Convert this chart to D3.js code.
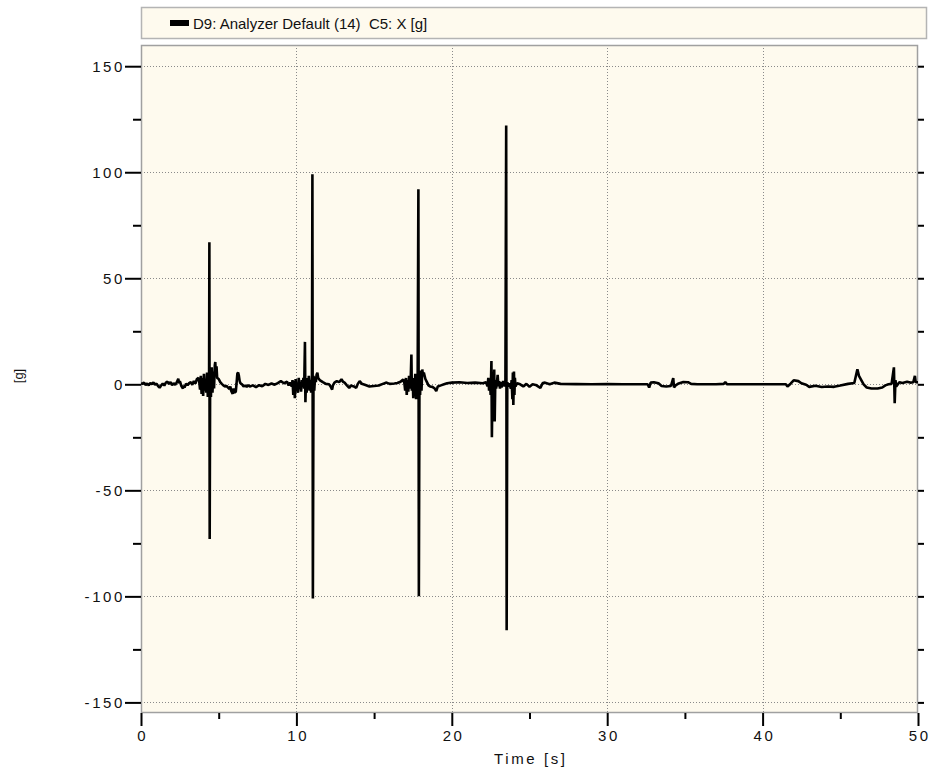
<!DOCTYPE html>
<html>
<head>
<meta charset="utf-8">
<script src="https://cdn.jsdelivr.net/npm/d3@7"></script>
<style>
  body { margin: 0; background: #fff; }
  svg { display: block; font-family: "Liberation Sans", Arial, sans-serif; }
  .tick-label { font-size: 15px; letter-spacing: 2.6px; fill: #111; }
</style>
</head>
<body>
<div id="chart"></div>
<script>
const legendLabel = "D9: Analyzer Default (14)  C5: X [g]";
const xTitle = "Time [s]";
const yTitle = "[g]";

const xMajorTicks = [0, 10, 20, 30, 40, 50];
const xMinorTicks = [5, 15, 25, 35, 45];
const yMajorTicks = [150, 100, 50, 0, -50, -100, -150];
const yMinorTicks = [125, 75, 25, -25, -75, -125];

// [time s, accel g]
const samples = [
  [0.0, 0.5], [0.1, 0.2], [0.2, 0.8], [0.3, -0.3], [0.4, 0.4], [0.5, -0.5], [0.6, 0.6], [0.7, 0.1],
  [0.8, 0.9], [0.9, -0.2], [1.0, 0.3], [1.1, -0.8], [1.2, -1.6], [1.3, -0.5], [1.4, 0.4], [1.5, -0.6],
  [1.6, 0.8], [1.7, 1.2], [1.8, 0.2], [1.9, 1.0], [2.0, -0.4], [2.1, 0.5], [2.2, -0.3], [2.3, 0.9],
  [2.4, 2.6], [2.45, 0.5], [2.5, 1.5], [2.6, -0.8], [2.7, -2.0], [2.75, -0.6], [2.8, -1.5], [2.9, 0.3],
  [3.0, -0.4], [3.1, 0.6], [3.2, 1.0], [3.3, -0.2], [3.4, 1.5], [3.5, 0.4], [3.6, 2.5], [3.7, 3.0],
  [3.75, 1.0], [3.8, -2.5], [3.85, 4.0], [3.9, -4.5], [3.95, 3.0], [4.0, -5.5], [4.05, 5.0], [4.1, -3.0],
  [4.15, 2.0], [4.2, -4.0], [4.25, 5.5], [4.3, -6.0], [4.35, 3.5], [4.38, -2.0], [4.4, 67.0], [4.42, -73.0],
  [4.45, 5.0], [4.5, -6.0], [4.55, 8.0], [4.6, -4.0], [4.65, 6.0], [4.7, -2.0], [4.75, 9.0], [4.78, 10.5],
  [4.82, 4.0], [4.86, 8.5], [4.9, 3.0], [5.0, 2.5], [5.1, 1.0], [5.2, 0.2], [5.3, -0.5], [5.4, -1.0],
  [5.5, -0.8], [5.6, -1.5], [5.7, -2.2], [5.75, -1.0], [5.8, -3.0], [5.9, -4.5], [5.95, -2.0], [6.0, -4.0],
  [6.1, -3.5], [6.15, 0.5], [6.2, 5.0], [6.25, 5.6], [6.3, 4.0], [6.35, 1.5], [6.4, 0.5], [6.5, 0.0],
  [6.6, -1.0], [6.7, -0.6], [6.8, -1.2], [6.9, -0.4], [7.0, -1.0], [7.2, -0.5], [7.4, -1.3], [7.6, -0.4],
  [7.8, -0.9], [8.0, 0.2], [8.2, -0.3], [8.4, 0.4], [8.6, -0.2], [8.8, 0.6], [9.0, 1.5], [9.2, 0.5],
  [9.4, 1.2], [9.5, -0.5], [9.6, 0.8], [9.7, -1.0], [9.75, 2.0], [9.8, -5.0], [9.85, 1.5], [9.9, -6.5],
  [9.95, 2.5], [10.0, -3.0], [10.05, 0.5], [10.1, -4.0], [10.15, 3.0], [10.2, -2.0], [10.25, 1.0], [10.3, -3.5],
  [10.35, 2.0], [10.4, -1.0], [10.45, 3.0], [10.5, -2.0], [10.55, 20.0], [10.58, -8.5], [10.62, 2.5], [10.66, -4.0],
  [10.7, 3.0], [10.75, -2.5], [10.8, 4.0], [10.85, -3.0], [10.9, 2.0], [10.95, -4.0], [11.0, 3.5], [11.03, 99.0],
  [11.06, -101.0], [11.1, 4.0], [11.15, -3.0], [11.2, 3.5], [11.25, 1.0], [11.3, 4.5], [11.35, 5.5], [11.4, 3.0],
  [11.5, 2.0], [11.7, 1.0], [11.9, 0.2], [12.1, 0.0], [12.2, -1.0], [12.3, -2.5], [12.35, -0.5], [12.45, 0.8],
  [12.6, 1.5], [12.75, 1.0], [12.9, 2.4], [13.0, 1.2], [13.1, 0.8], [13.25, -0.5], [13.4, -1.7], [13.5, -0.6],
  [13.7, -1.0], [13.85, -1.7], [13.95, 0.2], [14.07, 1.5], [14.2, 0.3], [14.4, -0.2], [14.7, -1.0], [15.0, -0.8],
  [15.3, -0.6], [15.6, 0.3], [15.8, 0.8], [16.0, 0.2], [16.3, 0.4], [16.5, 0.6], [16.7, 1.2], [16.87, 2.3],
  [16.95, 0.5], [17.0, -3.0], [17.05, 3.0], [17.1, -5.0], [17.15, 2.0], [17.2, -3.5], [17.25, 4.0], [17.3, -2.0],
  [17.35, 1.0], [17.4, 14.0], [17.43, -3.0], [17.48, 3.0], [17.52, -6.5], [17.56, 2.0], [17.6, -4.0], [17.65, 5.0],
  [17.7, -7.0], [17.75, 3.0], [17.8, -3.0], [17.85, 92.0], [17.88, -100.0], [17.92, 4.0], [17.96, -5.0], [18.0, 6.5],
  [18.05, -3.0], [18.1, 7.0], [18.15, 4.0], [18.2, 5.5], [18.3, 2.5], [18.4, 1.0], [18.5, -0.5], [18.6, -1.0],
  [18.75, -1.2], [18.9, -2.0], [19.0, -3.2], [19.1, -1.0], [19.3, -0.5], [19.5, 0.0], [19.7, 0.5], [20.0, 0.8],
  [20.5, 1.0], [21.0, 0.6], [21.5, 0.8], [22.0, 0.5], [22.2, 1.0], [22.3, -1.0], [22.35, 3.0], [22.4, -3.0],
  [22.45, 2.0], [22.5, -5.0], [22.55, 11.0], [22.58, -25.0], [22.62, 2.0], [22.66, -4.0], [22.7, 1.5], [22.73, 7.0],
  [22.76, -17.5], [22.8, 2.0], [22.85, -2.0], [22.9, 0.5], [22.95, 4.5], [23.0, -1.0], [23.05, 1.5], [23.1, -2.0],
  [23.15, 1.0], [23.2, -1.5], [23.3, 1.5], [23.4, -1.0], [23.45, 2.0], [23.5, 122.0], [23.53, -116.0], [23.57, 1.0],
  [23.62, -1.0], [23.7, 0.5], [23.8, -2.0], [23.85, 2.0], [23.9, -7.0], [23.93, 5.5], [23.96, -9.7], [24.0, 6.0],
  [24.03, -5.0], [24.06, 3.0], [24.1, -1.0], [24.2, 0.5], [24.4, 0.0], [24.6, -1.0], [24.8, 0.2], [25.0, -1.2],
  [25.2, 0.0], [25.4, -0.3], [25.7, -1.7], [25.85, 0.6], [26.0, 0.8], [26.3, 0.0], [26.6, 0.8], [27.0, 0.2],
  [28.0, 0.1], [29.0, 0.0], [30.0, 0.1], [31.0, 0.0], [32.0, 0.0], [32.6, 0.0], [32.7, -1.5], [32.8, 0.8],
  [33.0, 1.0], [33.3, 0.5], [33.5, -0.8], [33.8, -1.0], [34.1, -0.8], [34.25, 2.9], [34.3, -1.5], [34.4, -0.5],
  [34.6, 0.4], [34.9, 1.1], [35.2, 1.0], [35.4, 0.2], [35.8, 0.0], [36.5, 0.0], [37.0, 0.0], [37.5, 0.2],
  [37.6, 1.0], [37.7, 0.1], [38.5, 0.0], [39.5, 0.0], [40.5, 0.0], [41.5, 0.0], [41.6, -1.0], [41.8, 0.3],
  [42.0, 1.9], [42.3, 1.5], [42.5, 0.5], [42.8, -0.2], [43.0, -1.2], [43.4, -0.7], [43.8, -1.3], [44.2, -1.0],
  [44.6, -1.2], [45.0, -0.6], [45.5, 0.2], [45.9, 0.6], [46.1, 7.1], [46.2, 4.0], [46.35, 2.0], [46.5, 0.0],
  [46.7, -1.5], [47.0, -2.0], [47.4, -2.0], [47.7, -1.5], [47.9, -0.5], [48.1, 0.0], [48.3, 0.2], [48.45, 8.0],
  [48.5, -8.9], [48.55, 2.0], [48.6, -1.0], [48.8, 1.0], [49.0, 0.6], [49.3, 1.2], [49.5, 0.8], [49.7, 1.0],
  [49.8, 4.0], [49.85, 1.0], [50.0, 1.0]
];

const W = 932, H = 772;
const plot = { left: 141, right: 918, top: 45, bottom: 713 };
const bg = "#fefaee";

const svg = d3.select("#chart")
  .append("svg")
  .attr("width", W)
  .attr("height", H);

const x = d3.scaleLinear().domain([0, 50]).range([plot.left, plot.right]);
const y = d3.scaleLinear().domain([-155, 160]).range([plot.bottom, plot.top]);

// legend box
const legend = svg.append("g");
legend.append("rect")
  .attr("x", plot.left + 0.5).attr("y", 7.5)
  .attr("width", plot.right - plot.left + 8).attr("height", 31)
  .attr("fill", bg).attr("stroke", "#b4b4b4").attr("stroke-width", 1.5);
legend.append("rect")
  .attr("x", 170).attr("y", 20).attr("width", 19).attr("height", 6)
  .attr("fill", "#000");
legend.append("text")
  .attr("x", 193).attr("y", 29)
  .style("font-size", "15px")
  .style("white-space", "pre")
  .attr("fill", "#111")
  .text(legendLabel);

// plot background
svg.append("rect")
  .attr("x", plot.left).attr("y", plot.top)
  .attr("width", plot.right - plot.left).attr("height", plot.bottom - plot.top)
  .attr("fill", bg);

// grid
const grid = svg.append("g")
  .attr("stroke", "#8a8a8a").attr("stroke-width", 1).attr("stroke-dasharray", "1,2");
grid.selectAll(".gx").data(xMajorTicks.filter(d => d > 0 && d < 50)).join("line")
  .attr("x1", d => Math.round(x(d)) + 0.5).attr("x2", d => Math.round(x(d)) + 0.5)
  .attr("y1", plot.top).attr("y2", plot.bottom);
grid.selectAll(".gy").data(yMajorTicks).join("line")
  .attr("x1", plot.left).attr("x2", plot.right)
  .attr("y1", d => Math.round(y(d)) + 0.5).attr("y2", d => Math.round(y(d)) + 0.5);

// frame
svg.append("rect")
  .attr("x", plot.left + 0.5).attr("y", plot.top + 0.5)
  .attr("width", plot.right - plot.left - 1).attr("height", plot.bottom - plot.top - 1)
  .attr("fill", "none").attr("stroke", "#a0a0a0").attr("stroke-width", 1.5);

// trace
svg.append("clipPath").attr("id", "clip")
  .append("rect")
  .attr("x", plot.left).attr("y", plot.top)
  .attr("width", plot.right - plot.left).attr("height", plot.bottom - plot.top);

const line = d3.line()
  .x(d => x(d[0]))
  .y(d => y(d[1]));

svg.append("path")
  .datum(samples)
  .attr("clip-path", "url(#clip)")
  .attr("fill", "none")
  .attr("stroke", "#000")
  .attr("stroke-width", 2.6)
  .attr("stroke-linejoin", "bevel")
  .attr("d", line);

const plain = d => String(d);

// left axis
const yAxis = svg.append("g").attr("transform", `translate(${plot.left},0)`);
yAxis.call(d3.axisLeft(y).tickValues(yMajorTicks).tickSize(16).tickPadding(0).tickFormat(plain));
yAxis.append("g").call(d3.axisLeft(y).tickValues(yMinorTicks).tickSize(8).tickFormat(""));
yAxis.selectAll(".domain").remove();
yAxis.selectAll("line").attr("stroke", "#000").attr("stroke-width", 2);
yAxis.selectAll("text").attr("class", "tick-label").attr("font-family", null).attr("font-size", null);

// right axis (ticks only)
const yAxisR = svg.append("g").attr("transform", `translate(${plot.right},0)`);
yAxisR.call(d3.axisRight(y).tickValues(yMajorTicks.concat(yMinorTicks)).tickSize(6).tickFormat(""));
yAxisR.selectAll(".domain").remove();
yAxisR.selectAll("line").attr("stroke", "#000").attr("stroke-width", 2);

// bottom axis
const xAxis = svg.append("g").attr("transform", `translate(0,${plot.bottom})`);
xAxis.call(d3.axisBottom(x).tickValues(xMajorTicks).tickSize(13).tickPadding(4).tickFormat(plain));
xAxis.append("g").call(d3.axisBottom(x).tickValues(xMinorTicks).tickSize(6).tickFormat(""));
xAxis.selectAll(".domain").remove();
xAxis.selectAll("line").attr("stroke", "#000").attr("stroke-width", 2);
xAxis.selectAll("text").attr("class", "tick-label").attr("font-family", null).attr("font-size", null)
  .attr("dx", "1.3px");

// titles
svg.append("text")
  .attr("class", "tick-label")
  .attr("x", (plot.left + plot.right) / 2 + 1.3).attr("y", 764)
  .attr("text-anchor", "middle")
  .text(xTitle);

svg.append("text")
  .attr("transform", "translate(23,376) rotate(-90)")
  .attr("text-anchor", "middle")
  .style("font-size", "13px")
  .attr("fill", "#111")
  .text(yTitle);
</script>
</body>
</html>
